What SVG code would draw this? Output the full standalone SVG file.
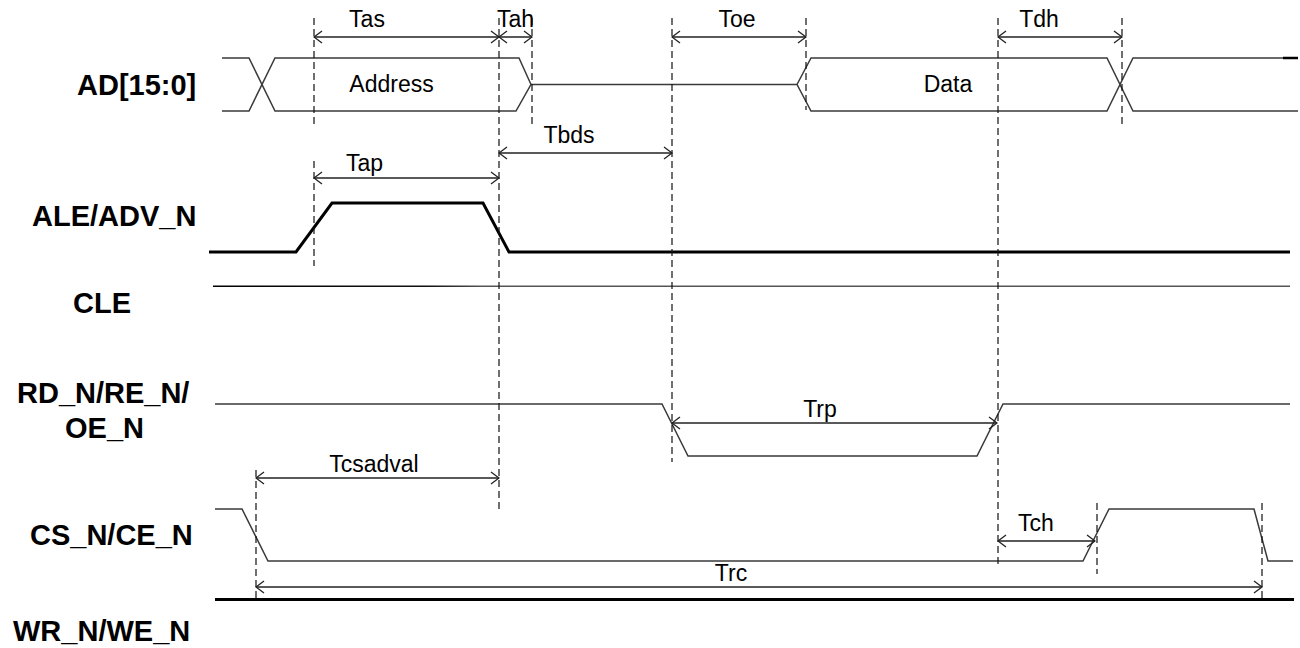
<svg xmlns="http://www.w3.org/2000/svg" width="1300" height="648" viewBox="0 0 1300 648">
<style>
.lbl{font-family:"Liberation Sans",Arial,sans-serif;font-weight:bold;font-size:29px;fill:#000}
.t{font-family:"Liberation Sans",Arial,sans-serif;font-size:23px;fill:#000;text-anchor:middle}
.sig{fill:none;stroke:#3a3a3a;stroke-width:1.5;stroke-linejoin:miter}
.thick{fill:none;stroke:#000;stroke-width:3}
.dash{fill:none;stroke:#111;stroke-width:1.2;stroke-dasharray:7 4}
.arr{fill:none;stroke:#222;stroke-width:1.3;marker-start:url(#ah);marker-end:url(#ah)}
</style>
<defs>
<marker id="ah" viewBox="-10 -8 11 16" refX="0" refY="0" markerWidth="11" markerHeight="16" markerUnits="userSpaceOnUse" orient="auto-start-reverse">
<path d="M-8,-6 L0,0 L-8,6" fill="none" stroke="#222" stroke-width="1.3"/>
</marker>
<linearGradient id="cleg" gradientUnits="userSpaceOnUse" x1="213" y1="0" x2="1290" y2="0">
<stop offset="0" stop-color="#000"/>
<stop offset="0.2" stop-color="#111"/>
<stop offset="0.25" stop-color="#555"/>
<stop offset="1" stop-color="#555"/>
</linearGradient>
</defs>
<rect width="1300" height="648" fill="#fff"/>

<g id="AD">
<text class="lbl" x="77" y="95">AD[15:0]</text>
<path class="sig" d="M222,58 L249,58 L275,111 L516,111 L531,84.5 L797,84.5 L811,111 L1107,111 L1133,58 L1283,58"/>
<path class="sig" d="M222,111 L249,111 L275,58 L519,58 L531,84.5 M797,84.5 L811,58 L1107,58 L1133,111 L1298,111"/>
<path d="M1283,58 L1298,58" stroke="#000" stroke-width="2.5"/>
<text class="t" x="391.5" y="92">Address</text>
<text class="t" x="948" y="92">Data</text>
</g>

<g id="ALE">
<text class="lbl" x="32" y="226">ALE/ADV_N</text>
<path class="thick" d="M209,252 L296,252 L332,203 L483,203 L509,252 L1290,252"/>
</g>

<g id="CLE">
<text class="lbl" x="73" y="313">CLE</text>
<rect x="213" y="285.5" width="1077" height="1.5" fill="url(#cleg)"/>
</g>

<g id="RD">
<text class="lbl" x="17" y="403">RD_N/RE_N/</text>
<text class="lbl" x="65" y="438">OE_N</text>
<path class="sig" d="M215,404 L662,404 L688,456 L977,456 L1003,404 L1290,404"/>
</g>

<g id="CS">
<text class="lbl" x="30" y="545">CS_N/CE_N</text>
<path class="sig" d="M215,509 L242,509 L268,561 L1083,561 L1109,509 L1254,509 L1268,561 L1293,561"/>
</g>

<g id="WR">
<text class="lbl" x="13" y="641">WR_N/WE_N</text>
<path class="thick" d="M215,599.5 L1294,599.5"/>
</g>

<g id="connectors">
<path class="dash" d="M314,18 V126 M314,161 V266 M499,18 V513 M532,18 V126 M672,18 V462 M806,18 V110 M998,18 V568 M1122,18 V126 M256,470 V600 M1097,503 V574 M1262,503 V600"/>
<path class="arr" d="M314,37 H499"/>
<path class="arr" d="M499,37 H532"/>
<path class="arr" d="M672,37 H806"/>
<path class="arr" d="M998,37 H1122"/>
<path class="arr" d="M499,153 H672"/>
<path class="arr" d="M314,178 H499"/>
<path class="arr" d="M672,423 H997"/>
<path class="arr" d="M256,478 H499"/>
<path class="arr" d="M998,541 H1095"/>
<path class="arr" d="M256,587 H1262"/>
</g>

<g id="labels">
<text class="t" x="367" y="27">Tas</text>
<text class="t" x="515.5" y="27">Tah</text>
<text class="t" x="737" y="27">Toe</text>
<text class="t" x="1039" y="27">Tdh</text>
<text class="t" x="569" y="143">Tbds</text>
<text class="t" x="364.5" y="171">Tap</text>
<text class="t" x="820" y="417">Trp</text>
<text class="t" x="374" y="472">Tcsadval</text>
<text class="t" x="1036" y="531">Tch</text>
<text class="t" x="731" y="581">Trc</text>
</g>
</svg>
